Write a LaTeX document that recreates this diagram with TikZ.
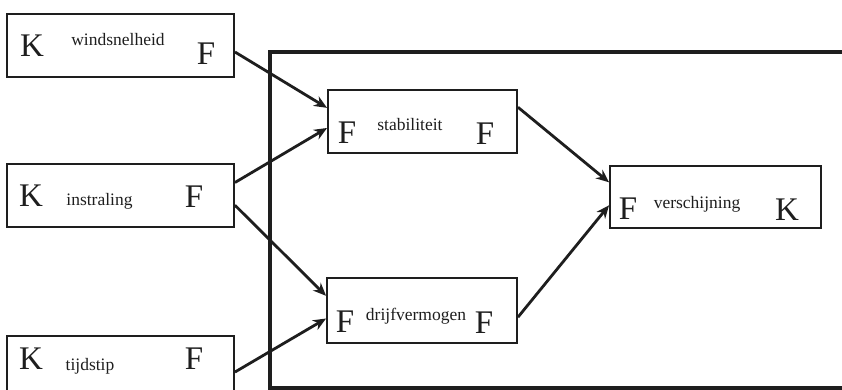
\documentclass[tikz,border=0pt]{standalone}
\usepackage{fontspec}
\setmainfont{Liberation Serif}
\usetikzlibrary{arrows.meta,calc}
\definecolor{ink}{HTML}{1E1E1E}
\tikzset{
  box/.style={draw=ink,line width=1.9pt,rectangle,inner sep=0pt},
  big/.style={inner sep=0pt,anchor=base,text=ink,font=\fontsize{33}{33}\selectfont},
  lbl/.style={inner sep=0pt,anchor=base,text=ink,font=\fontsize{17.5}{17.5}\selectfont},
  conn/.style={draw=ink,line width=2.8pt,-{Stealth[length=13pt,width=11pt]}},
}
\begin{document}
\begin{tikzpicture}[x=1pt,y=-1pt]
\useasboundingbox (0,0) rectangle (842,390);
\clip (0,0) rectangle (842,390);
% frame
\draw[ink,line width=3.6pt] (850,52) -- (270,52) -- (270,388) -- (850,388);
% boxes
\node[box,minimum width=227pt,minimum height=63pt] (wind) at (120.5,45.5) {};
\node[box,minimum width=227pt,minimum height=63pt] (instr) at (120.5,195.5) {};
\node[box,minimum width=227pt,minimum height=63pt] (tijd) at (120.5,367.5) {};
\node[box,fill=white,minimum width=189pt,minimum height=63pt] (stab) at (422.5,121.5) {};
\node[box,fill=white,minimum width=190pt,minimum height=65pt] (drijf) at (422,310.5) {};
\node[box,minimum width=211pt,minimum height=62pt] (versch) at (715.5,197) {};
% texts
\node[big] (windK) at (32,57) {K};
\node[lbl] (windL) at (118,46) {windsnelheid};
\node[big] (windF) at (206,65) {F};
\node[big] (instrK) at (31,206) {K};
\node[lbl] (instrL) at (99.5,205) {instraling};
\node[big] (instrF) at (194,207) {F};
\node[big] (tijdK) at (31,369) {K};
\node[lbl] (tijdL) at (90,370) {tijdstip};
\node[big] (tijdF) at (194,369) {F};
\node[big] (stabF1) at (347,144) {F};
\node[lbl] (stabL) at (410,131) {stabiliteit};
\node[big] (stabF2) at (485,145) {F};
\node[big] (drijfF1) at (345,332) {F};
\node[lbl] (drijfL) at (416,320) {drijfvermogen};
\node[big] (drijfF2) at (484,333) {F};
\node[big] (verschF) at (628,219) {F};
\node[lbl] (verschL) at (697,208) {verschijning};
\node[big] (verschK) at (787,220) {K};
% connectors
\draw[conn] ($(wind.north east)!0.6!(wind.south east)$) -- ($(stab.north west)!0.29!(stab.south west)$);
\draw[conn] ($(instr.north east)!0.3!(instr.south east)$) -- ($(stab.north west)!0.6!(stab.south west)$);
\draw[conn] ($(instr.north east)!0.65!(instr.south east)$) -- ($(drijf.north west)!0.28!(drijf.south west)$);
\draw[conn] ($(tijd.north east)!0.57!(tijd.south east)$) -- ($(drijf.north west)!0.62!(drijf.south west)$);
\draw[conn] ($(stab.north east)!0.28!(stab.south east)$) -- ($(versch.north west)!0.27!(versch.south west)$);
\draw[conn] ($(drijf.north east)!0.6!(drijf.south east)$) -- ($(versch.north west)!0.63!(versch.south west)$);
\end{tikzpicture}
\end{document}
